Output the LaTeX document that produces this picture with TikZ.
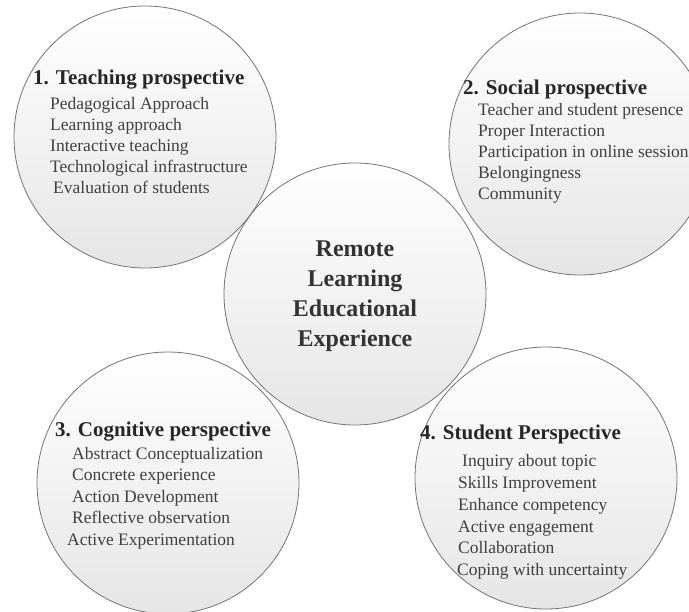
\documentclass[tikz,border=0pt]{standalone}
\usepackage{fontspec}
\setmainfont{Liberation Serif}
\usetikzlibrary{positioning}

\begin{document}
\begin{tikzpicture}[x=1pt, y=-1pt,
  disc/.style={circle, minimum size=262pt, inner sep=0pt, shading=axis,
               top color=white, bottom color=gray!20},
  rim/.style={circle, minimum size=262pt, inner sep=0pt, draw=black!55, line width=0.8pt},
  head/.style={anchor=base west, inner sep=0pt, font=\fontsize{21}{25}\selectfont\bfseries, text=black!85},
  item/.style={anchor=base west, inner sep=0pt, font=\fontsize{17.5}{21}\selectfont, text=black!75},
  core/.style={align=center, inner sep=0pt, font=\fontsize{24}{30}\selectfont\bfseries, text=black!80}
]
  \useasboundingbox (0,0) rectangle (689,612);
  \clip (0,0) rectangle (689,612);

  % Discs (shading first, rims afterwards so every outline shows)
  \node[disc] (teach) at (145,137) {};
  \node[disc] (social) at (580,144) {};
  \node[disc] (cog) at (168,483) {};
  \node[disc] (student) at (546,478) {};
  \node[disc] (hub) at (355,294) {};
  \foreach \c in {teach,social,cog,student,hub}
    \node[rim] at (\c) {};

  % Centre
  \node[core] (hubtext) at (355,296) {Remote\\Learning\\Educational\\Experience};

  % 1. Teaching
  \node[head] (teach-h) at (33,85) {1. Teaching prospective};
  \foreach \dx/\t [count=\i] in {0/Pedagogical Approach, 0/Learning approach,
      0/Interactive teaching, 0/Technological infrastructure, 3/Evaluation of students}
    \node[item] (teach-\i) at (50+\dx,88+21.2*\i) {\t};

  % 2. Social
  \node[head] (social-h) at (463,95) {2. Social prospective};
  \foreach \dx/\t [count=\i] in {0/Teacher and student presence, 0/Proper Interaction,
      0/Participation in online session, 0/Belongingness, 0/Community}
    \node[item] (social-\i) at (478+\dx,95+21*\i) {\t};

  % 3. Cognitive
  \node[head] (cog-h) at (55,437) {3. Cognitive perspective};
  \foreach \dx/\t [count=\i] in {0/Abstract Conceptualization, 0/Concrete experience,
      0/Action Development, 0/Reflective observation, -5/Active Experimentation}
    \node[item] (cog-\i) at (72+\dx,438+21.5*\i) {\t};

  % 4. Student
  \node[head] (student-h) at (420,440) {4. Student Perspective};
  \foreach \dx/\t [count=\i] in {4/Inquiry about topic, 0/Skills Improvement,
      0/Enhance competency, 0/Active engagement, 0/Collaboration, -1/Coping with uncertainty}
    \node[item] (student-\i) at (458+\dx,445+21.8*\i) {\t};
\end{tikzpicture}
\end{document}
